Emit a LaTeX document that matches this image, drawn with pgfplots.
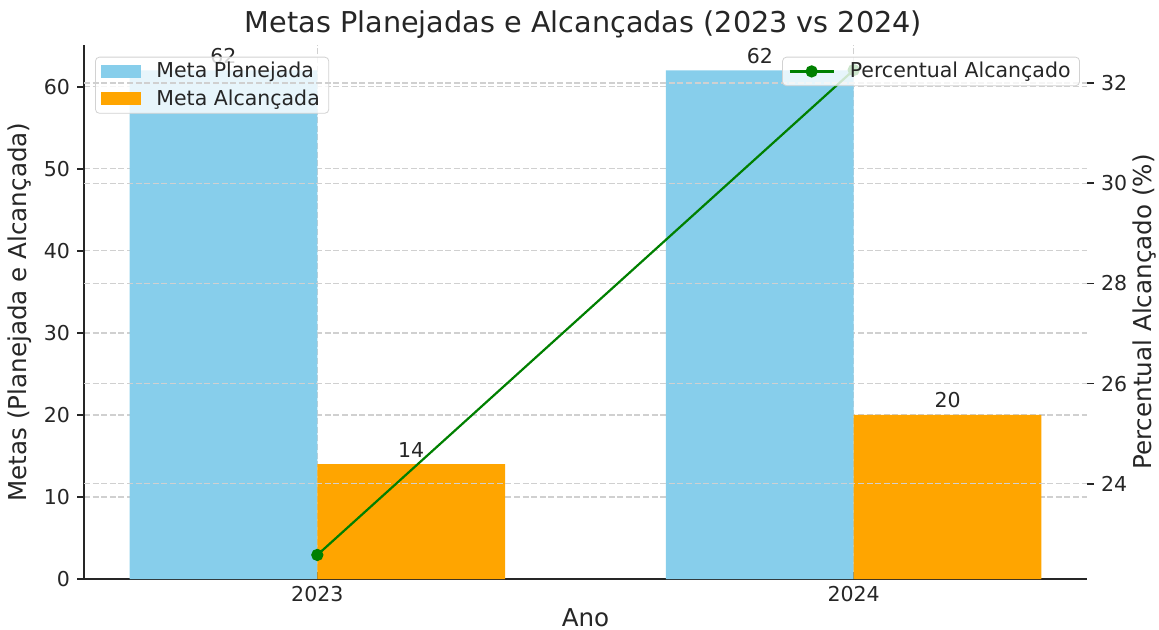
\documentclass[border=0pt]{standalone}
\usepackage{fontspec}
\setmainfont{DejaVu Sans}
\usepackage{pgfplots}
\pgfplotsset{compat=1.18}
\definecolor{skyb}{RGB}{135,206,235}
\definecolor{orng}{RGB}{255,165,0}
\definecolor{grn}{RGB}{0,128,0}
\definecolor{txt}{RGB}{38,38,38}
\definecolor{gridc}{RGB}{208,208,208}
\begin{document}
\begin{tikzpicture}
\pgfplotsset{
  base/.style={
    scale only axis, width=501.5pt, height=267pt,
    xmin=-0.435, xmax=1.435,
    /pgf/number format/assume math mode=true,
    ticklabel style={font=\fontsize{10.25}{12}\selectfont, text=txt},
    label style={font=\fontsize{12.3}{14}\selectfont, text=txt},
    major tick length=3.5pt,
    tick style={black!85, line width=0.8pt},
    grid style={gridc, dash pattern=on 3pt off 1.3pt, line width=0.6pt},
    legend cell align=left,
    legend style={font=\fontsize{10.25}{12}\selectfont, text=txt, fill=white, fill opacity=0.8, text opacity=1, draw=gray!35, draw opacity=1, rounded corners=2pt, inner xsep=3pt, inner ysep=1pt, nodes={inner sep=1.5pt}, row sep=1.5pt, column sep=6pt},
  }
}
\begin{axis}[base, name=main,
  axis x line*=bottom, axis y line*=left,
  axis line style={black!85, line width=0.9pt},
  ymin=0, ymax=65.1,
  ytick={0,10,...,60},
  xtick={0,1}, xticklabels={2023,2024},
  xtick align=inside, ytick align=outside,
  xmajorgrids, ymajorgrids,
  xlabel={Ano}, ylabel={Metas (Planejada e Alcançada)},
  xlabel style={at={(axis description cs:0.5,-0.072)}, anchor=center, inner sep=0pt},
  ylabel style={at={(axis description cs:-0.0638,0.5)}, anchor=center},
  legend style={at={(axis description cs:0.011,0.978)}, anchor=north west},
]
\addplot[ybar, bar width=0.35, bar shift=0, fill=skyb, draw=none,
  nodes near coords, every node near coord/.append style={font=\fontsize{10.25}{12}\selectfont, text=txt},
  legend image code/.code={\fill[skyb, fill opacity=1, sharp corners] (0pt,-3.25pt) rectangle (20pt,3.25pt);}]
  coordinates {(-0.175,62) (0.825,62)};
\addplot[ybar, bar width=0.35, bar shift=0, fill=orng, draw=none,
  nodes near coords, every node near coord/.append style={font=\fontsize{10.25}{12}\selectfont, text=txt},
  legend image code/.code={\fill[orng, fill opacity=1, sharp corners] (0pt,-3.25pt) rectangle (20pt,3.25pt);}]
  coordinates {(0.175,14) (1.175,20)};
\legend{Meta Planejada, Meta Alcançada}
\end{axis}
\begin{axis}[base,
  axis y line*=right, axis x line=none,
  y axis line style={draw=none},
  ymin=22.10, ymax=32.76, ytick={24,26,...,32},
  ytick align=outside, ymajorgrids,
  ylabel={Percentual Alcançado (\%)},
  ylabel style={at={(axis description cs:1.0578,0.5)}, anchor=center},
  legend style={at={(axis description cs:0.993,0.978)}, anchor=north east},
]
\addplot[grn, line width=1.1pt, mark=*, mark size=2.5pt,
  legend image code/.code={\draw[grn, line width=1.1pt, draw opacity=1, sharp corners] (0pt,0pt) -- (22pt,0pt); \fill[grn, fill opacity=1] (11pt,0pt) circle (2.5pt);}]
  coordinates {(0,22.58) (1,32.26)};
\legend{Percentual Alcançado}
\end{axis}
\node[font=\fontsize{14.35}{17}\selectfont, text=txt, xshift=-1pt, yshift=10pt] at (main.north) {Metas Planejadas e Alcançadas (2023 vs 2024)};
\pgfresetboundingbox
\path[use as bounding box] (main.south west) ++(-42pt,-25.5pt) rectangle ++(579.5pt,315pt);
\end{tikzpicture}
\end{document}
